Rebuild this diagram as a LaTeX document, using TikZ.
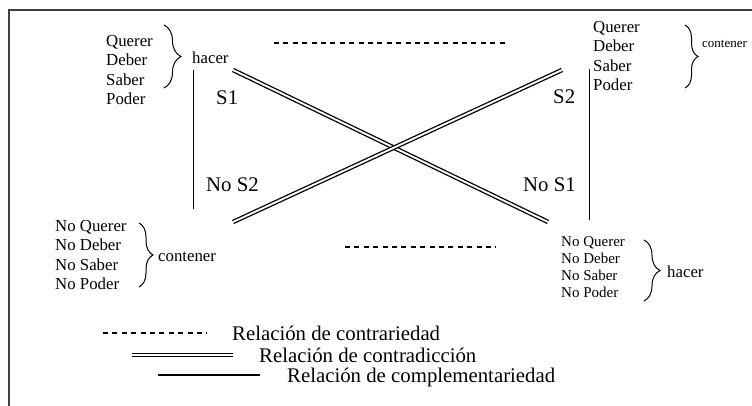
\documentclass[tikz,border=0pt]{standalone}
\usepackage{fontspec}
\setmainfont{Liberation Serif}
\usetikzlibrary{decorations.pathreplacing, positioning}

\begin{document}
\begin{tikzpicture}[
    x=1pt, y=-1pt,
    lista/.style={align=left, inner sep=0pt, anchor=west, font=\fontsize{16.8}{19.3}\selectfont},
    listachica/.style={align=left, inner sep=0pt, anchor=west, font=\fontsize{15}{16.8}\selectfont},
    etiqueta/.style={inner sep=0pt, anchor=west, font=\fontsize{16.8}{19}\selectfont},
    grande/.style={inner sep=0pt, anchor=west, font=\fontsize{20.8}{24}\selectfont},
    llave/.style={decorate, decoration={brace, amplitude=#1}, line width=1pt},
    contrariedad/.style={line width=1.2pt, dash pattern=on 5pt off 4.4pt},
    contradiccion/.style={double, line width=1.3pt, double distance=1.9pt},
    complementariedad/.style={line width=0.9pt}
]
\useasboundingbox (0,0) rectangle (752,406);
% Marco
\draw[line width=1.3pt, black!75] (752,10) -- (9,10) -- (9,406);

% Listas de modalidades
\node[lista] (sup_izq) at (106,70) {Querer\\Deber\\Saber\\Poder};
\node[lista] (sup_der) at (593,56) {Querer\\Deber\\Saber\\Poder};
\node[lista] (inf_izq) at (55,255) {No Querer\\No Deber\\No Saber\\No Poder};
\node[listachica] (inf_der) at (561,267) {No Querer\\No Deber\\No Saber\\No Poder};

% Llaves
\draw[llave=17pt] (164,25) -- (164,88);
\draw[llave=13pt] (685,25) -- (685,88);
\draw[llave=14pt] (139,223) -- (139,287);
\draw[llave=16pt] (644,240) -- (644,301);
\node[etiqueta] (hacer_izq) at (192,58) {hacer};
\node[etiqueta, font=\fontsize{13}{15}\selectfont] (contener_der) at (702,44) {contener};
\node[etiqueta] (contener_izq) at (158,257) {contener};
\node[etiqueta] (hacer_der) at (667,272) {hacer};

% Extremos del cuadrado
\coordinate (s1) at (233,70);
\coordinate (nos1) at (548,222);
\coordinate (s2) at (562,70);
\coordinate (nos2) at (233,222);
\node[grande] (lab_s1) at (216,98) {S1};
\node[grande] (lab_s2) at (553,97) {S2};
\node[grande] (lab_nos2) at (206,185) {No S2};
\node[grande] (lab_nos1) at (523,185) {No S1};

% Relaciones
\draw[contradiccion] (s1) -- (nos1);
\draw[contradiccion] (nos2) -- (s2);
\coordinate (arr_a) at (274,43);
\coordinate (arr_b) at (508,43);
\coordinate (aba_a) at (345,247);
\coordinate (aba_b) at (496,247);
\draw[contrariedad] (arr_a) -- (arr_b);
\draw[contrariedad] (aba_a) -- (aba_b);
\coordinate (izq_a) at (193,70);
\coordinate (izq_b) at (193,209);
\coordinate (der_a) at (589,69);
\coordinate (der_b) at (589,220);
\draw[complementariedad] (izq_a) -- (izq_b);
\draw[complementariedad] (der_a) -- (der_b);

% Leyenda
\node[grande] (ley1) at (232,333) {Relación de contrariedad};
\node[grande] (ley2) at (259,355) {Relación de contradicción};
\node[grande] (ley3) at (287,377) {Relación de complementariedad};
\coordinate (l1a) at (103,333);
\coordinate (l2a) at (132,355);
\coordinate (l3a) at (158,375);
\draw[contrariedad] (l1a) -- ++(104,0);
\draw[contradiccion, line width=1.6pt, double distance=1.6pt] (l2a) -- ++(101,0);
\draw[complementariedad, line width=1.1pt] (l3a) -- ++(102,0);
\end{tikzpicture}
\end{document}
